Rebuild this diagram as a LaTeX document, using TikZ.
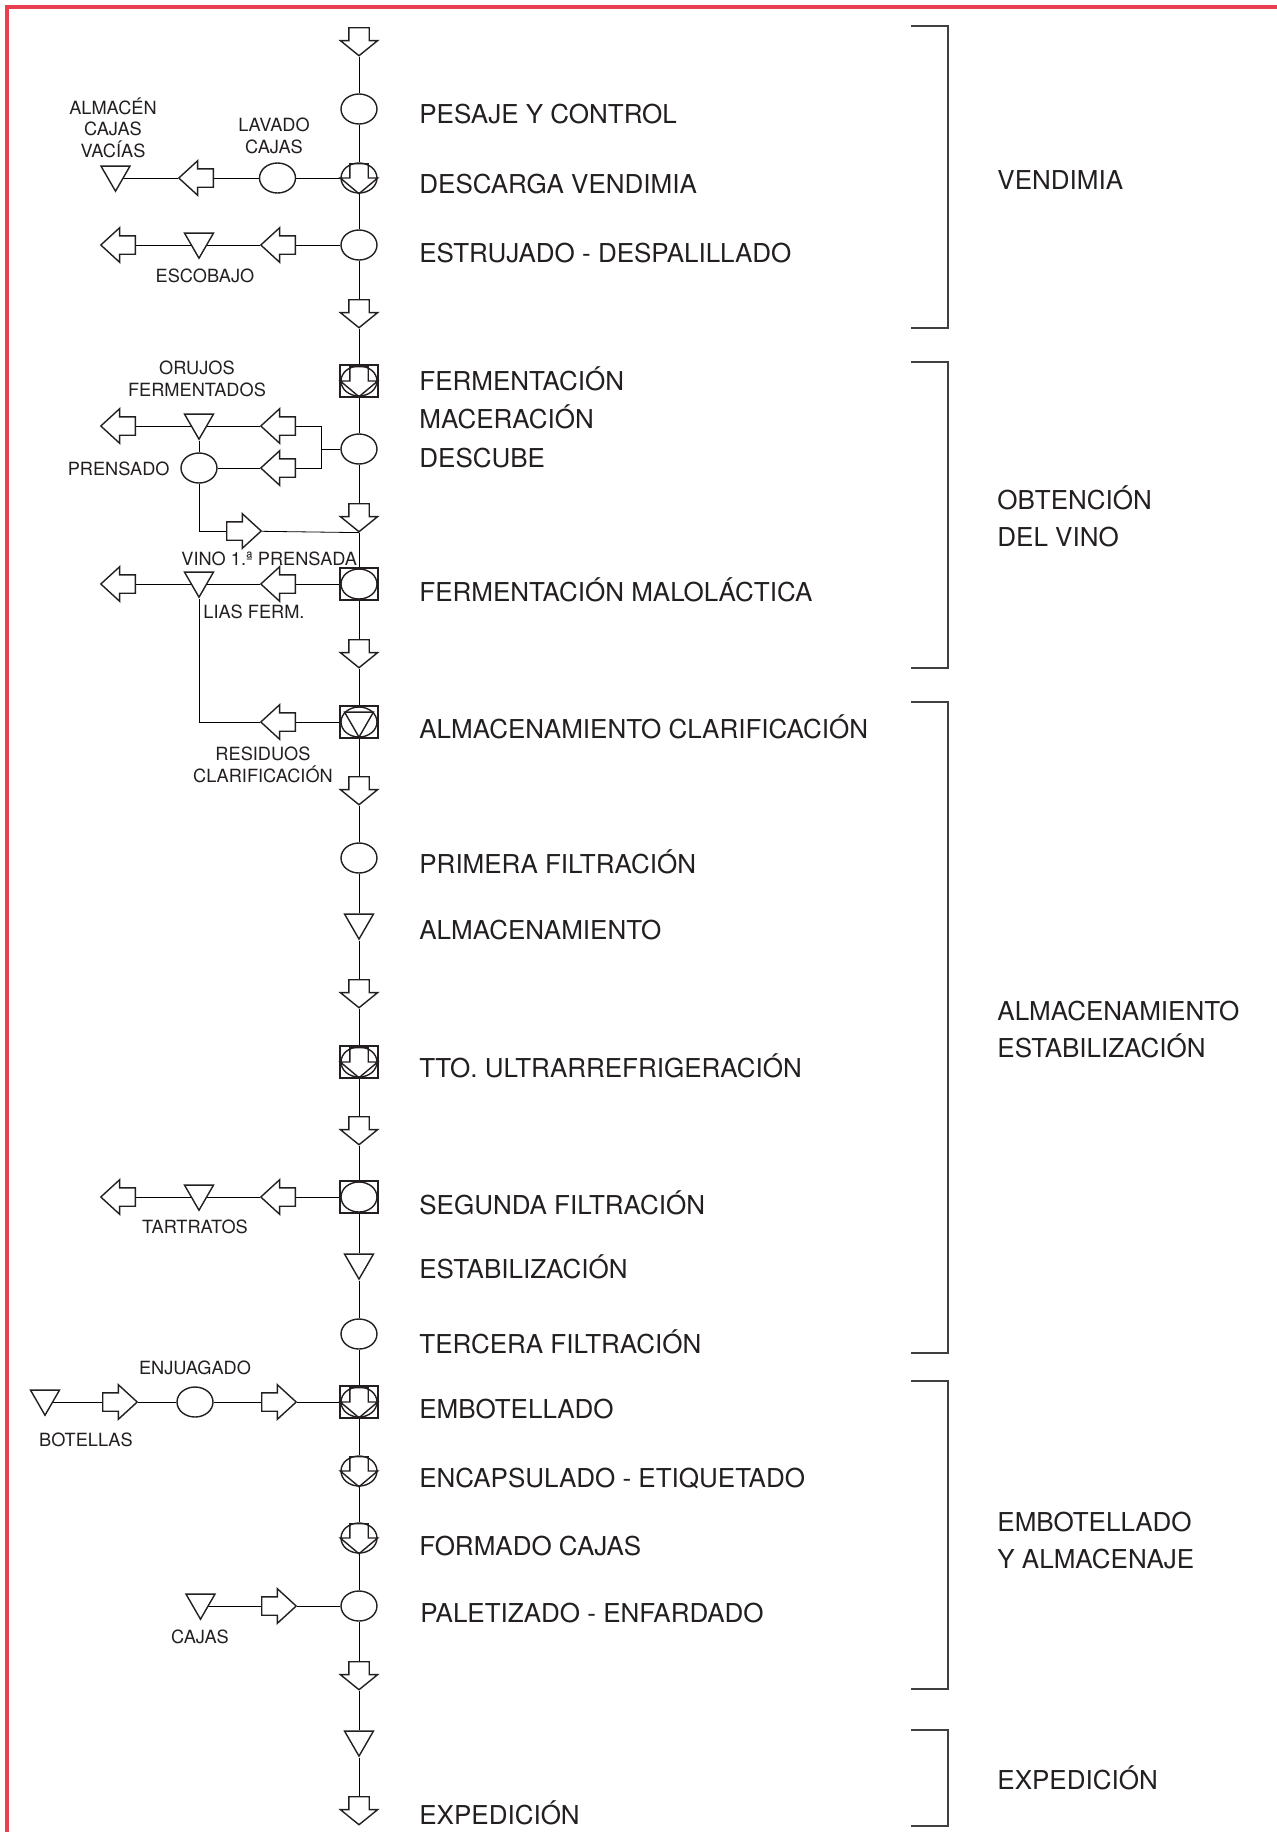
\documentclass[tikz,border=0pt]{standalone}
\usepackage{fontspec}
\setmainfont{TeX Gyre Heros}
\usetikzlibrary{shapes.geometric,shapes.arrows,backgrounds}
\definecolor{framered}{RGB}{232,64,80}
\definecolor{ink}{RGB}{35,31,32}

\begin{document}
\begin{tikzpicture}[x=0.5pt, y=-0.5pt, line width=0.7pt, color=ink,
  elli/.style={ellipse, draw, fill=white, inner sep=0pt, minimum width=18pt, minimum height=15pt},
  boxx/.style={rectangle, draw, fill=white, inner sep=0pt, minimum width=19pt, minimum height=16pt},
  tri/.style={regular polygon, regular polygon sides=3, shape border rotate=180, draw, fill=white, inner sep=0pt, minimum size=16.7pt},
  varr/.style={single arrow, draw, fill=white, rotate=-90, anchor=tail, inner xsep=0pt, inner ysep=4.75pt, single arrow head extend=4.25pt, single arrow tip angle=102, minimum width=18pt, minimum height=14pt},
  iarr/.style={single arrow, draw, rotate=-90, anchor=tail, inner xsep=0pt, inner ysep=4.25pt, single arrow head extend=4.75pt, single arrow tip angle=100, minimum width=18pt, minimum height=15pt},
  harr/.style={single arrow, draw, fill=white, anchor=tail, inner xsep=0pt, inner ysep=4.25pt, single arrow head extend=4pt, single arrow tip angle=85, minimum width=16.5pt, minimum height=17.25pt},
  larr/.style={harr, rotate=180},
  lbl/.style={font=\fontsize{13}{18.5}\selectfont, inner sep=0pt, anchor=base west, align=left},
  sml/.style={font=\fontsize{9.1}{10.75}\selectfont, inner sep=0pt, anchor=base, align=center},
  brk/.style={line width=0.75pt, color=black!75}]
\useasboundingbox (0,0) rectangle (1277,1832);
\draw[framered, line width=1.6pt] (7,1832) -- (7,7) -- (1277,7);

% main column
\node[varr] (st0) at (359,27){};
\node[elli] (st1) at (359,109){};
\node[elli] (st2) at (359,178){};
\node[iarr] (st2a) at (359,163){};
\node[elli] (st3) at (359,245){};
\node[varr] (st4) at (359,299){};
\node[boxx] (st5) at (359,381){};
\node[elli] (st5e) at (359,381){};
\node[iarr] (st5a) at (359,366){};
\node[elli] (st6) at (359,449){};
\node[varr] (st7) at (359,503){};
\node[boxx] (st8) at (359,584){};
\node[elli] (st8e) at (359,584){};
\node[varr] (st9) at (359,639){};
\node[boxx] (st10) at (359,722){};
\node[elli] (st10e) at (359,722){};
\node[tri, fill=none] (st10t) at (359,720.4){};
\node[varr] (st11) at (359,776){};
\node[elli] (st12) at (359,858){};
\node[tri] (st13) at (359,922.4){};
\node[varr] (st14) at (359,979){};
\node[boxx] (st15) at (359,1062){};
\node[elli] (st15e) at (359,1062){};
\node[iarr] (st15a) at (359,1047){};
\node[varr] (st16) at (359,1116){};
\node[boxx] (st17) at (359,1197){};
\node[elli] (st17e) at (359,1197){};
\node[tri] (st18) at (359,1262.4){};
\node[elli] (st19) at (359,1334){};
\node[boxx] (st20) at (359,1402){};
\node[elli] (st20e) at (359,1402){};
\node[iarr] (st20a) at (359,1387){};
\node[elli] (st21) at (359,1471){};
\node[iarr] (st21a) at (359,1456){};
\node[elli] (st22) at (359,1538){};
\node[iarr] (st22a) at (359,1523){};
\node[elli] (st23) at (359,1606){};
\node[varr] (st24) at (359,1661){};
\node[tri] (st25) at (359,1739.4){};
\node[varr] (st26) at (359,1796){};

% side branches
\node[elli] (sb1) at (277.5,178){};
\node[larr] (sb2) at (214,178){};
\node[tri] (sb3) at (115.5,174.5){};
\node[larr] (sb4) at (296,245){};
\node[tri] (sb5) at (199,241.5){};
\node[larr] (sb6) at (136,245){};
\coordinate (bus) at (321,449);
\node[larr] (sb7) at (296,426){};
\node[tri] (sb8) at (199,422.5){};
\node[larr] (sb9) at (136,426){};
\node[larr] (sb10) at (296,468){};
\node[elli] (sb11) at (199,468){};
\node[harr] (sb12) at (226,531){};
\node[larr] (sb13) at (296,584){};
\node[tri] (sb14) at (199,580.5){};
\node[larr] (sb15) at (136,584){};
\node[larr] (sb16) at (296,722){};
\node[larr] (sb17) at (296,1197){};
\node[tri] (sb18) at (199,1193.5){};
\node[larr] (sb19) at (136,1197){};
\node[tri] (sb20) at (45,1398.5){};
\node[harr] (sb21) at (102,1402){};
\node[elli] (sb22) at (195,1402){};
\node[harr] (sb23) at (261,1402){};
\node[tri] (sb24) at (200.5,1602.5){};
\node[harr] (sb25) at (261,1606){};

\begin{pgfonlayer}{background}
\draw[](st0) -- (st1);
\draw[](st1) -- (st2);
\draw[](st2) -- (st3);
\draw[](st3) -- (st4);
\draw[](st4) -- (st5);
\draw[](st5) -- (st6);
\draw[](st6) -- (st7);
\draw[](st7) -- (st8);
\draw[](st8) -- (st9);
\draw[](st9) -- (st10);
\draw[](st10) -- (st11);
\draw[](st11) -- (st12);
\draw[](st12) -- (st13);
\draw[](st13) -- (st14);
\draw[](st14) -- (st15);
\draw[](st15) -- (st16);
\draw[](st16) -- (st17);
\draw[](st17) -- (st18);
\draw[](st18) -- (st19);
\draw[](st19) -- (st20);
\draw[](st20) -- (st21);
\draw[](st21) -- (st22);
\draw[](st22) -- (st23);
\draw[](st23) -- (st24);
\draw[](st24) -- (st25);
\draw[](st25) -- (st26);
\draw[](st2) -- (sb1);
\draw[](sb1) -- (sb2);
\draw[](sb2) -- (sb3.center |- sb2);
\draw[](st3) -- (sb4);
\draw[](sb4) -- (sb5.center |- sb4);
\draw[](sb5.center |- sb4) -- (sb6);
\draw[](st6) -- (bus);
\draw[](bus) |- (sb7);
\draw[](bus) |- (sb10);
\draw[](sb7) -- (sb8.center |- sb7);
\draw[](sb8.center |- sb7) -- (sb9);
\draw[](sb8) -- (sb11);
\draw[](sb10) -- (sb11);
\draw[](sb11) |- (sb12);
\draw[](sb12) -- (st7.tip);
\draw[](st8) -- (sb13);
\draw[](sb13) -- (sb14.center |- sb13);
\draw[](sb14.center |- sb13) -- (sb15);
\draw[](st10) -- (sb16);
\draw[](sb16) -| (sb14);
\draw[](st17) -- (sb17);
\draw[](sb17) -- (sb18.center |- sb17);
\draw[](sb18.center |- sb17) -- (sb19);
\draw[](sb20.center |- sb21) -- (sb21);
\draw[](sb21) -- (sb22);
\draw[](sb22) -- (sb23);
\draw[](sb23) -- (st20);
\draw[](sb24.center |- sb25) -- (sb25);
\draw[](sb25) -- (st23);
\end{pgfonlayer}

% step labels
\node[lbl] (lb1) at (419,123) {PESAJE Y CONTROL};
\node[lbl] (lb2) at (419,193) {DESCARGA VENDIMIA};
\node[lbl] (lb3) at (419,262) {ESTRUJADO - DESPALILLADO};
\node[lbl, font=\fontsize{13}{19.25}\selectfont] (lb4) at (419,467) {FERMENTACIÓN\\MACERACIÓN\\DESCUBE};
\node[lbl] (lb5) at (419,601) {FERMENTACIÓN MALOLÁCTICA};
\node[lbl] (lb6) at (419,738) {ALMACENAMIENTO CLARIFICACIÓN};
\node[lbl] (lb7) at (419,873) {PRIMERA FILTRACIÓN};
\node[lbl] (lb8) at (419,939) {ALMACENAMIENTO};
\node[lbl] (lb9) at (419,1077) {TTO. ULTRARREFRIGERACIÓN};
\node[lbl] (lb10) at (419,1214) {SEGUNDA FILTRACIÓN};
\node[lbl] (lb11) at (419,1278) {ESTABILIZACIÓN};
\node[lbl] (lb12) at (419,1353) {TERCERA FILTRACIÓN};
\node[lbl] (lb13) at (419,1418) {EMBOTELLADO};
\node[lbl] (lb14) at (419,1487) {ENCAPSULADO - ETIQUETADO};
\node[lbl] (lb15) at (419,1555) {FORMADO CAJAS};
\node[lbl] (lb16) at (420,1622) {PALETIZADO - ENFARDADO};
\node[lbl] (lb17) at (419,1824) {EXPEDICIÓN};

% side labels
\node[sml] (sl1) at (113,157) {ALMACÉN\\CAJAS\\VACÍAS};
\node[sml] (sl2) at (274,153) {LAVADO\\CAJAS};
\node[sml] (sl3) at (205,282) {ESCOBAJO};
\node[sml] (sl4) at (197,396) {ORUJOS\\FERMENTADOS};
\node[sml, anchor=base east] (sl5) at (170,475) {PRENSADO};
\node[sml, anchor=base west] (sl6) at (181,565) {VINO 1.ª PRENSADA};
\node[sml, anchor=base west] (sl7) at (203,618) {LIAS FERM.};
\node[sml] (sl8) at (263,782) {RESIDUOS\\CLARIFICACIÓN};
\node[sml] (sl9) at (195,1233) {TARTRATOS};
\node[sml] (sl10) at (195,1374) {ENJUAGADO};
\node[sml] (sl11) at (86,1446) {BOTELLAS};
\node[sml] (sl12) at (200,1643) {CAJAS};

% phases
\draw[brk] (911,26) -| (948,328) -- (911,328);
\draw[brk] (911,362) -| (948,668) -- (911,668);
\draw[brk] (911,702) -| (948,1353) -- (911,1353);
\draw[brk] (911,1381) -| (948,1689) -- (911,1689);
\draw[brk] (911,1730) -| (948,1826) -- (911,1826);
\node[lbl] (ph1) at (997,189) {VENDIMIA};
\node[lbl] (ph2) at (997,546) {OBTENCIÓN\\DEL VINO};
\node[lbl] (ph3) at (997,1057) {ALMACENAMIENTO\\ESTABILIZACIÓN};
\node[lbl] (ph4) at (997,1568) {EMBOTELLADO\\Y ALMACENAJE};
\node[lbl] (ph5) at (997,1789) {EXPEDICIÓN};

\end{tikzpicture}
\end{document}
